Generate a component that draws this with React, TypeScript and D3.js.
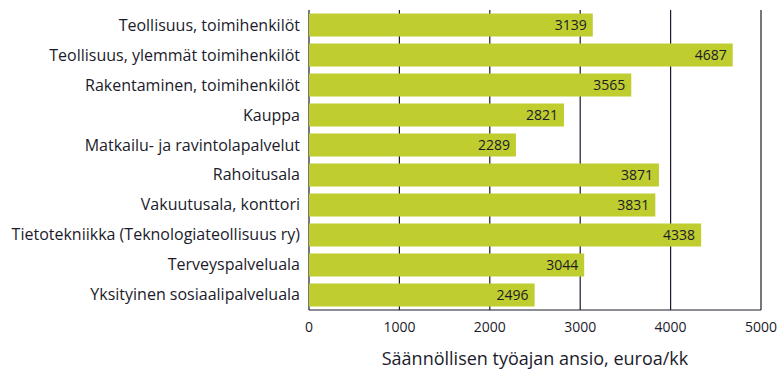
import React from 'react'
import * as d3 from 'd3'

// sector names, top to bottom
const categories = [
  'Teollisuus, toimihenkilöt',
  'Teollisuus, ylemmät toimihenkilöt',
  'Rakentaminen, toimihenkilöt',
  'Kauppa',
  'Matkailu- ja ravintolapalvelut',
  'Rahoitusala',
  'Vakuutusala, konttori',
  'Tietotekniikka (Teknologiateollisuus ry)',
  'Terveyspalveluala',
  'Yksityinen sosiaalipalveluala',
]
// monthly earnings, euro
const earnings = [3139, 4687, 3565, 2821, 2289, 3871, 3831, 4338, 3044, 2496]
const xTicks = [0, 1000, 2000, 3000, 4000, 5000]
const xTitle = 'Säännöllisen työajan ansio, euroa/kk'

const W = 783
const H = 374
const M = { left: 309, right: 22, top: 10, bottom: 64 }
const BAR = '#bfcd2f'
const INK = '#1b1b2b'
const FONT = '"Open Sans", "DejaVu Sans", sans-serif'

export default function App() {
  const x = d3.scaleLinear().domain([0, 5000]).range([M.left, W - M.right])
  const y = d3.scaleBand<string>()
    .domain(categories)
    .range([M.top, H - M.bottom])
    .paddingInner(0.233)
    .paddingOuter(0.117)

  const bottom = H - M.bottom

  return (
    <svg width={W} height={H} style={{ position: 'absolute', left: 0, top: 0, background: '#fff' }}
      fontFamily={FONT}>
      {/* grid lines */}
      {xTicks.map(t => (
        <line key={'g' + t} x1={x(t)} x2={x(t)} y1={M.top} y2={bottom} stroke={INK} strokeWidth={1.2} />
      ))}
      <line x1={x(0)} x2={x(5000)} y1={bottom} y2={bottom} stroke={INK} strokeWidth={1.2} />

      {/* bars */}
      {categories.map((c, i) => (
        <rect key={c} x={x(0)} y={y(c)} width={x(earnings[i]) - x(0)} height={y.bandwidth()} fill={BAR} />
      ))}

      {/* value labels */}
      {categories.map((c, i) => (
        <text key={'v' + c} x={x(earnings[i]) - 6} y={(y(c) ?? 0) + y.bandwidth() / 2 + 5}
          textAnchor="end" fontSize={14} fill={INK}>
          {earnings[i]}
        </text>
      ))}

      {/* category labels */}
      {categories.map(c => (
        <text key={'c' + c} x={M.left - 9} y={(y(c) ?? 0) + y.bandwidth() / 2 + 5.5}
          textAnchor="end" fontSize={16} fill={INK}>
          {c}
        </text>
      ))}

      {/* x tick labels */}
      {xTicks.map(t => (
        <text key={'t' + t} x={x(t)} y={bottom + 22} textAnchor="middle" fontSize={14} fill={INK}>
          {t}
        </text>
      ))}

      <text x={(x(0) + x(5000)) / 2} y={bottom + 55} textAnchor="middle" fontSize={18} fill={INK}>
        {xTitle}
      </text>
    </svg>
  )
}
